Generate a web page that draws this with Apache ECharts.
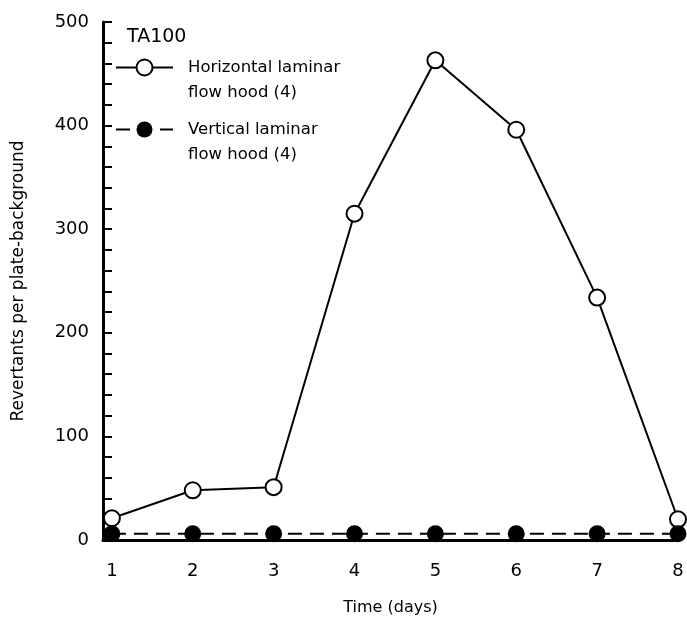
<!DOCTYPE html>
<html>
<head>
<meta charset="utf-8">
<script src="https://cdn.jsdelivr.net/npm/echarts@6/dist/echarts.min.js"></script>
<style>
  html, body { margin: 0; padding: 0; background: #fff; }
  #chart { width: 687px; height: 623px; }
</style>
</head>
<body>
<div id="chart"></div>
<script>
// days on the x axis
const days = [1, 2, 3, 4, 5, 6, 7, 8];
const dayLabels = ['1', '2', '3', '4', '5', '6', '7', '8'];
// revertants per plate minus background
const horizontalHood = [21, 48, 51, 315, 463, 396, 234, 20];
const verticalHood = [6, 6, 6, 6, 6, 6, 6, 6];

const horizontalName = 'Horizontal laminar flow hood (4)';
const verticalName = 'Vertical laminar flow hood (4)';

const font = '"DejaVu Sans", Verdana, sans-serif';

const chart = echarts.init(document.getElementById('chart'));

// legend shared style: empty first line so the icon sits on the first text line
const legendBase = {
  orient: 'vertical',
  left: 110,
  itemWidth: 57,
  itemHeight: 20,
  textStyle: {
    fontFamily: font,
    fontSize: 16.5,
    color: '#000',
    lineHeight: 25,
    padding: [0, 0, 0, 10]
  },
  formatter: name => '\n' + name.replace(' flow', '\nflow'),
  selectedMode: false
};

const option = {
  animation: false,
  title: {
    text: 'TA100',
    left: 122,
    top: 23,
    textStyle: { fontFamily: font, fontSize: 19, fontWeight: 'normal', color: '#000' }
  },
  legend: [
    Object.assign({}, legendBase, { top: 25, data: [horizontalName] }),
    Object.assign({}, legendBase, { top: 87, data: [verticalName] })
  ],
  grid: { left: 103, right: 9, top: 22, bottom: 83 },
  xAxis: {
    type: 'value',
    min: 0.89,
    max: 8,
    name: 'Time (days)',
    nameLocation: 'middle',
    nameGap: 60,
    nameTextStyle: { fontFamily: font, fontSize: 16, color: '#000' },
    axisLine: { lineStyle: { color: '#000', width: 3 } },
    axisTick: { show: false },
    splitLine: { show: false },
    axisLabel: {
      customValues: days,
      formatter: v => dayLabels[days.indexOf(v)],
      fontFamily: font,
      fontSize: 18,
      color: '#000',
      margin: 22
    }
  },
  yAxis: {
    type: 'value',
    min: 0,
    max: 500,
    interval: 100,
    name: 'Revertants per plate-background',
    nameLocation: 'middle',
    nameGap: 76,
    nameTextStyle: { fontFamily: font, fontSize: 17, color: '#000' },
    axisLine: { show: true, lineStyle: { color: '#000', width: 3 } },
    axisTick: { show: true, inside: true, length: 9, lineStyle: { color: '#000', width: 2 } },
    minorTick: { show: true, splitNumber: 5, length: 9, lineStyle: { color: '#000', width: 2 } },
    splitLine: { show: false },
    axisLabel: { fontFamily: font, fontSize: 18, color: '#000', margin: 14 }
  },
  series: [
    {
      name: horizontalName,
      type: 'line',
      data: days.map((d, i) => [d, horizontalHood[i]]),
      symbol: 'circle',
      symbolSize: 16,
      lineStyle: { color: '#000', width: 2 },
      itemStyle: { color: '#fff', borderColor: '#000', borderWidth: 2 },
      z: 3
    },
    {
      name: verticalName,
      type: 'line',
      data: days.map((d, i) => [d, verticalHood[i]]),
      symbol: 'circle',
      symbolSize: 17,
      lineStyle: { color: '#000', width: 2, type: [14, 8] },
      itemStyle: { color: '#000', borderColor: '#000', borderWidth: 0 },
      z: 4
    }
  ]
};

chart.setOption(option);
</script>
</body>
</html>
